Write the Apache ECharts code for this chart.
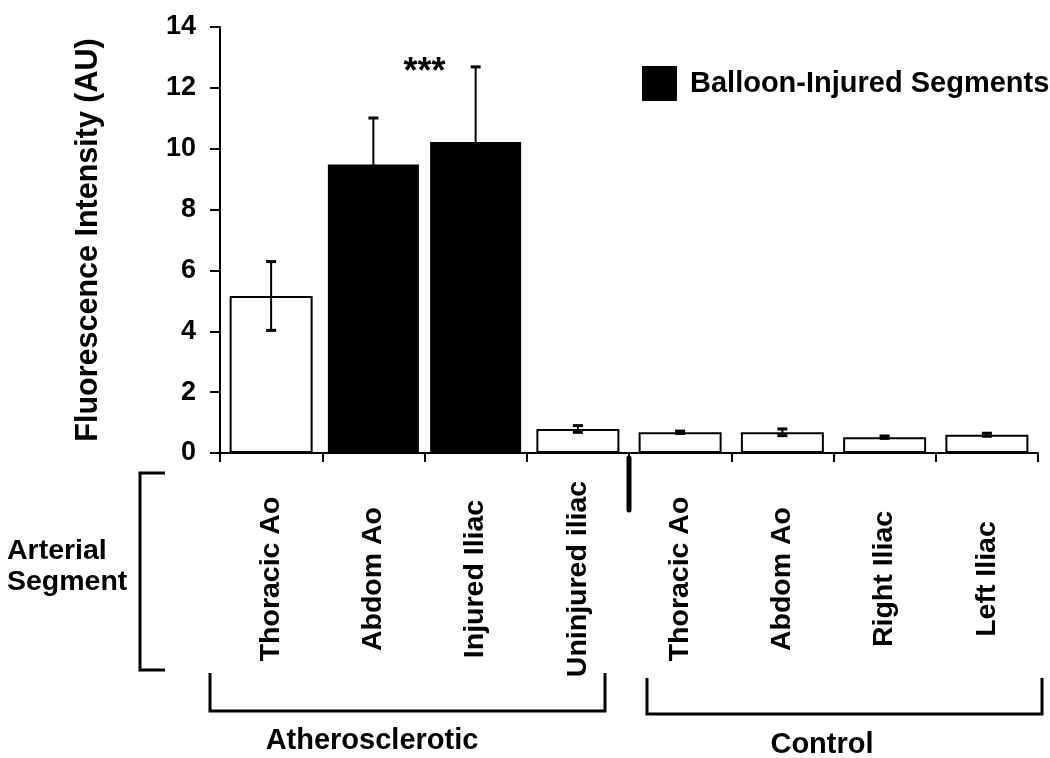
<!DOCTYPE html>
<html><head><meta charset="utf-8">
<script src="https://cdn.jsdelivr.net/npm/echarts@6/dist/echarts.min.js"></script>
<style>html,body{margin:0;padding:0;background:#fff}#c{width:1050px;height:758px}</style>
</head><body><div id="c"></div>
<script>
// ---- data ----
const categories = ['Thoracic Ao', 'Abdom Ao', 'Injured Iliac', 'Uninjured iliac',
                    'Thoracic Ao', 'Abdom Ao', 'Right Iliac', 'Left Iliac'];
const means  = [5.16, 9.48, 10.22, 0.79, 0.68, 0.68, 0.52, 0.60];
const errors = [1.13, 1.53, 2.47, 0.11, 0.04, 0.11, 0.04, 0.05];
const balloonInjured = [false, true, true, false, false, false, false, false];
const legendName = 'Balloon-Injured Segments';
const yAxisTitle = 'Fluorescence Intensity (AU)';
const sideTitle = 'Arterial\nSegment';
const groupNames = ['Atherosclerotic', 'Control'];
const significanceText = '***';
const significanceValue = 12.75;   // height of the *** mark, data units
const yMin = 0, yMax = 14, yInterval = 2;

// ---- derived series ----
const whiteData = means.map((v, i) => balloonInjured[i] ? '-' : v);
const blackData = means.map((v, i) => balloonInjured[i] ? v : '-');
const errData = means.map((v, i) => [i, v, errors[i]]);

const FONT = "'Liberation Sans', Arial, sans-serif";
const chart = echarts.init(document.getElementById('c'), null, {renderer: 'canvas'});

const xAxisBase = {
  type: 'category',
  data: categories,
  boundaryGap: true
};

chart.setOption({
  animation: false,
  backgroundColor: '#fff',
  grid: {left: 220, right: 12, top: 27, bottom: 305, containLabel: false},
  legend: {
    data: [legendName],
    left: 637, top: 61,
    itemWidth: 35, itemHeight: 35,
    icon: 'rect',
    textStyle: {fontFamily: FONT, fontWeight: 'bold', fontSize: 29, color: '#000', padding: [0, 0, 0, 8]}
  },
  xAxis: [
    Object.assign({}, xAxisBase, {
      axisLine: {lineStyle: {color: '#000', width: 2}},
      axisTick: {show: true, alignWithLabel: false, length: 9, lineStyle: {color: '#000', width: 2}},
      axisLabel: {
        interval: 0, rotate: 90, align: 'center', verticalAlign: 'middle', margin: 126,
        fontFamily: FONT, fontWeight: 'bold', fontSize: 28.5, color: '#000'
      }
    }),
    Object.assign({}, xAxisBase, {show: false})
  ],
  yAxis: {
    type: 'value', min: yMin, max: yMax, interval: yInterval,
    name: yAxisTitle, nameLocation: 'middle', nameGap: 116, nameRotate: 90,
    nameTextStyle: {fontFamily: FONT, fontWeight: 'bold', fontSize: 30.5, color: '#000'},
    axisLine: {show: true, lineStyle: {color: '#000', width: 2}},
    axisTick: {show: true, length: 10, lineStyle: {color: '#000', width: 2}},
    axisLabel: {margin: 24, fontFamily: FONT, fontWeight: 'bold', fontSize: 27, color: '#000'},
    splitLine: {show: false}
  },
  series: [
    {
      name: 'Other Segments', type: 'bar', xAxisIndex: 0, data: whiteData,
      barWidth: 83, z: 2,
      itemStyle: {color: '#fff', borderColor: '#000', borderWidth: 2}
    },
    {
      name: legendName, type: 'bar', xAxisIndex: 1, data: blackData,
      barWidth: 91, z: 2,
      itemStyle: {color: '#000'}
    },
    {
      name: 'SD', type: 'custom', xAxisIndex: 0, data: errData, z: 5,
      encode: {x: 0, y: 1},
      renderItem: function (params, api) {
        const i = api.value(0), m = api.value(1), e = api.value(2);
        const top = api.coord([i, m + e]);
        const bot = api.coord([i, m - e]);
        const hw = 5;
        const st = {stroke: '#000', lineWidth: 2};
        return {
          type: 'group',
          children: [
            {type: 'line', shape: {x1: top[0], y1: top[1], x2: bot[0], y2: bot[1]}, style: st},
            {type: 'line', shape: {x1: top[0] - hw, y1: top[1], x2: top[0] + hw, y2: top[1]}, style: {stroke: '#000', lineWidth: 3}},
            {type: 'line', shape: {x1: bot[0] - hw, y1: bot[1], x2: bot[0] + hw, y2: bot[1]}, style: {stroke: '#000', lineWidth: 3}}
          ]
        };
      }
    }
  ]
});

// ---- annotations placed from axis coordinates ----
const px = i => chart.convertToPixel({xAxisIndex: 0}, i);
const py = v => chart.convertToPixel({yAxisIndex: 0}, v);
const y0 = py(0);
const sepX = (px(3) + px(4)) / 2;
const sigX = (px(1) + px(2)) / 2;
const lineSt = {stroke: '#000', lineWidth: 3, fill: null};

chart.setOption({
  graphic: [
    {type: 'line', shape: {x1: sepX, y1: y0 + 5, x2: sepX, y2: y0 + 57},
     style: {stroke: '#000', lineWidth: 5, lineCap: 'round'}, z: 10},
    {type: 'text', x: sigX, y: py(significanceValue) + 8,
     style: {text: significanceText, fontFamily: FONT, fontWeight: 'bold', fontSize: 36, fill: '#000', align: 'center', verticalAlign: 'middle'}},
    {type: 'text', x: 7, y: 567,
     style: {text: sideTitle, fontFamily: FONT, fontWeight: 'bold', fontSize: 28.5, lineHeight: 31, fill: '#000', align: 'left', verticalAlign: 'middle'}},
    {type: 'polyline', shape: {points: [[165, 473], [140, 473], [140, 670], [165, 670]]}, style: lineSt},
    {type: 'polyline', shape: {points: [[210, 673], [210, 711], [605, 711], [605, 673]]}, style: lineSt},
    {type: 'polyline', shape: {points: [[647, 678], [647, 714], [1042, 714], [1042, 678]]}, style: lineSt},
    {type: 'text', x: 372, y: 741,
     style: {text: groupNames[0], fontFamily: FONT, fontWeight: 'bold', fontSize: 29, fill: '#000', align: 'center', verticalAlign: 'middle'}},
    {type: 'text', x: 822, y: 745,
     style: {text: groupNames[1], fontFamily: FONT, fontWeight: 'bold', fontSize: 29, fill: '#000', align: 'center', verticalAlign: 'middle'}}
  ]
});
</script>
</body></html>
